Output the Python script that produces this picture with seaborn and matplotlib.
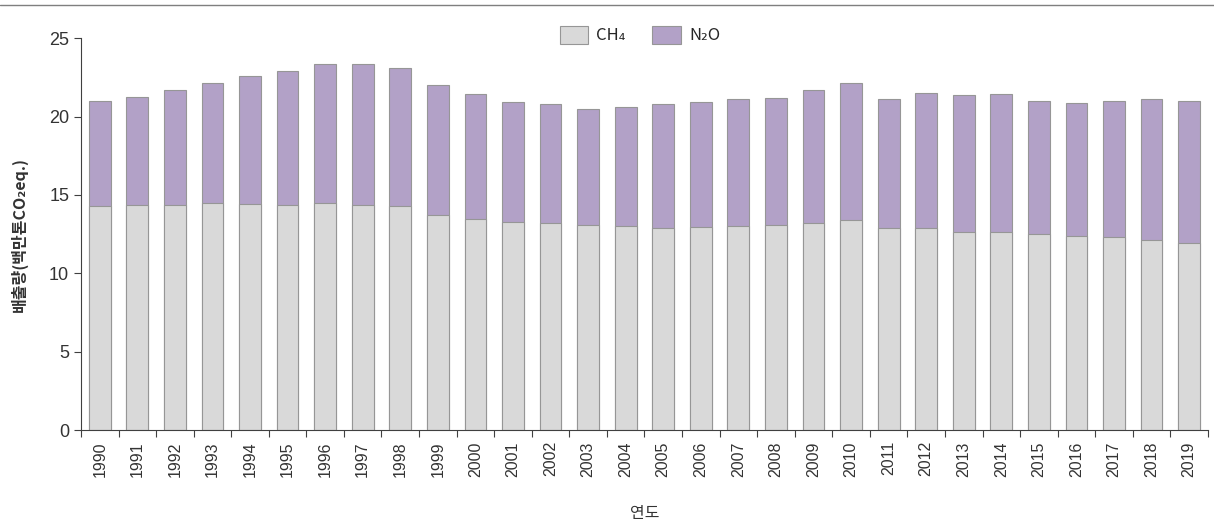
import matplotlib
matplotlib.use("Agg")
import matplotlib.pyplot as plt
from matplotlib.patches import Patch
from matplotlib.lines import Line2D
import seaborn as sns
import pandas as pd

years = [str(y) for y in range(1990, 2020)]
ch4 = [14.30, 14.35, 14.33, 14.46, 14.44, 14.37, 14.48, 14.39, 14.31, 13.75,
       13.45, 13.29, 13.24, 13.07, 12.99, 12.90, 12.93, 13.01, 13.07, 13.22,
       13.39, 12.90, 12.90, 12.67, 12.67, 12.48, 12.37, 12.31, 12.10, 11.91]
total = [21.00, 21.28, 21.68, 22.13, 22.62, 22.88, 23.38, 23.38, 23.11, 22.00,
         21.43, 20.92, 20.79, 20.51, 20.60, 20.79, 20.90, 21.11, 21.17, 21.70,
         22.13, 21.15, 21.51, 21.39, 21.43, 21.02, 20.85, 21.00, 21.15, 20.98]
n2o = [t - c for t, c in zip(total, ch4)]

ch4_color = "#d9d9d9"
n2o_color = "#b2a1c7"
edge = "#969696"
axis_color = "#404040"
font = ["Noto Sans CJK KR", "DejaVu Sans"]
num_font = ["Liberation Sans", "DejaVu Sans"]

sns.set_style("white")
plt.rcParams["font.family"] = font

df = pd.DataFrame({"year": years, "CH4": ch4, "N2O": n2o})
df["total"] = df["CH4"] + df["N2O"]

fig = plt.figure(figsize=(12.14, 5.31), dpi=100)
ax = fig.add_axes([0.0667, 0.19, 0.9283, 0.738])

# stacked: draw total first (N2O colour), then CH4 on top of it
sns.barplot(data=df, x="year", y="total", color=n2o_color, edgecolor=edge,
            linewidth=0.8, width=0.58, saturation=1, ax=ax)
sns.barplot(data=df, x="year", y="CH4", color=ch4_color, edgecolor=edge,
            linewidth=0.8, width=0.58, saturation=1, ax=ax)

ax.set_ylim(0, 25)
ax.set_xlim(-0.5, len(years) - 0.5)
ax.set_yticks([0, 5, 10, 15, 20, 25])
ax.tick_params(axis="y", labelsize=13, colors="#333333", length=5,
               width=0.8, color=axis_color, direction="out", left=True)
ax.set_xticks(range(len(years)))
ax.set_xticklabels(years, rotation=90)
ax.tick_params(axis="x", which="major", length=0, labelsize=11.5,
               labelcolor="#333333", pad=8)
ax.set_xticks([i - 0.5 for i in range(len(years) + 1)], minor=True)
ax.tick_params(axis="x", which="minor", length=5, width=0.8,
               color=axis_color, direction="out", bottom=True)
for lab in ax.get_xticklabels() + ax.get_yticklabels():
    lab.set_family(num_font)

for s in ["top", "right"]:
    ax.spines[s].set_visible(False)
for s in ["left", "bottom"]:
    ax.spines[s].set_color(axis_color)
    ax.spines[s].set_linewidth(0.8)

ax.set_ylabel("배출량(백만톤CO₂eq.)", fontsize=11.5, fontweight="bold",
              color="#333333", labelpad=15)
ax.set_xlabel("연도", fontsize=11.5, color="#333333", labelpad=20)

handles = [Patch(facecolor=ch4_color, edgecolor=edge, linewidth=0.8, label="CH₄"),
           Patch(facecolor=n2o_color, edgecolor=edge, linewidth=0.8, label="N₂O")]
fig.legend(handles=handles, loc="center", bbox_to_anchor=(0.527, 0.934),
           ncol=2, frameon=False, fontsize=12, handlelength=1.7,
           handleheight=1.3, columnspacing=1.6, handletextpad=0.5)

fig.add_artist(Line2D([0, 1], [0.99, 0.99], transform=fig.transFigure,
                      color="#7f7f7f", linewidth=1.0))

fig.savefig("out.png", dpi=100)
